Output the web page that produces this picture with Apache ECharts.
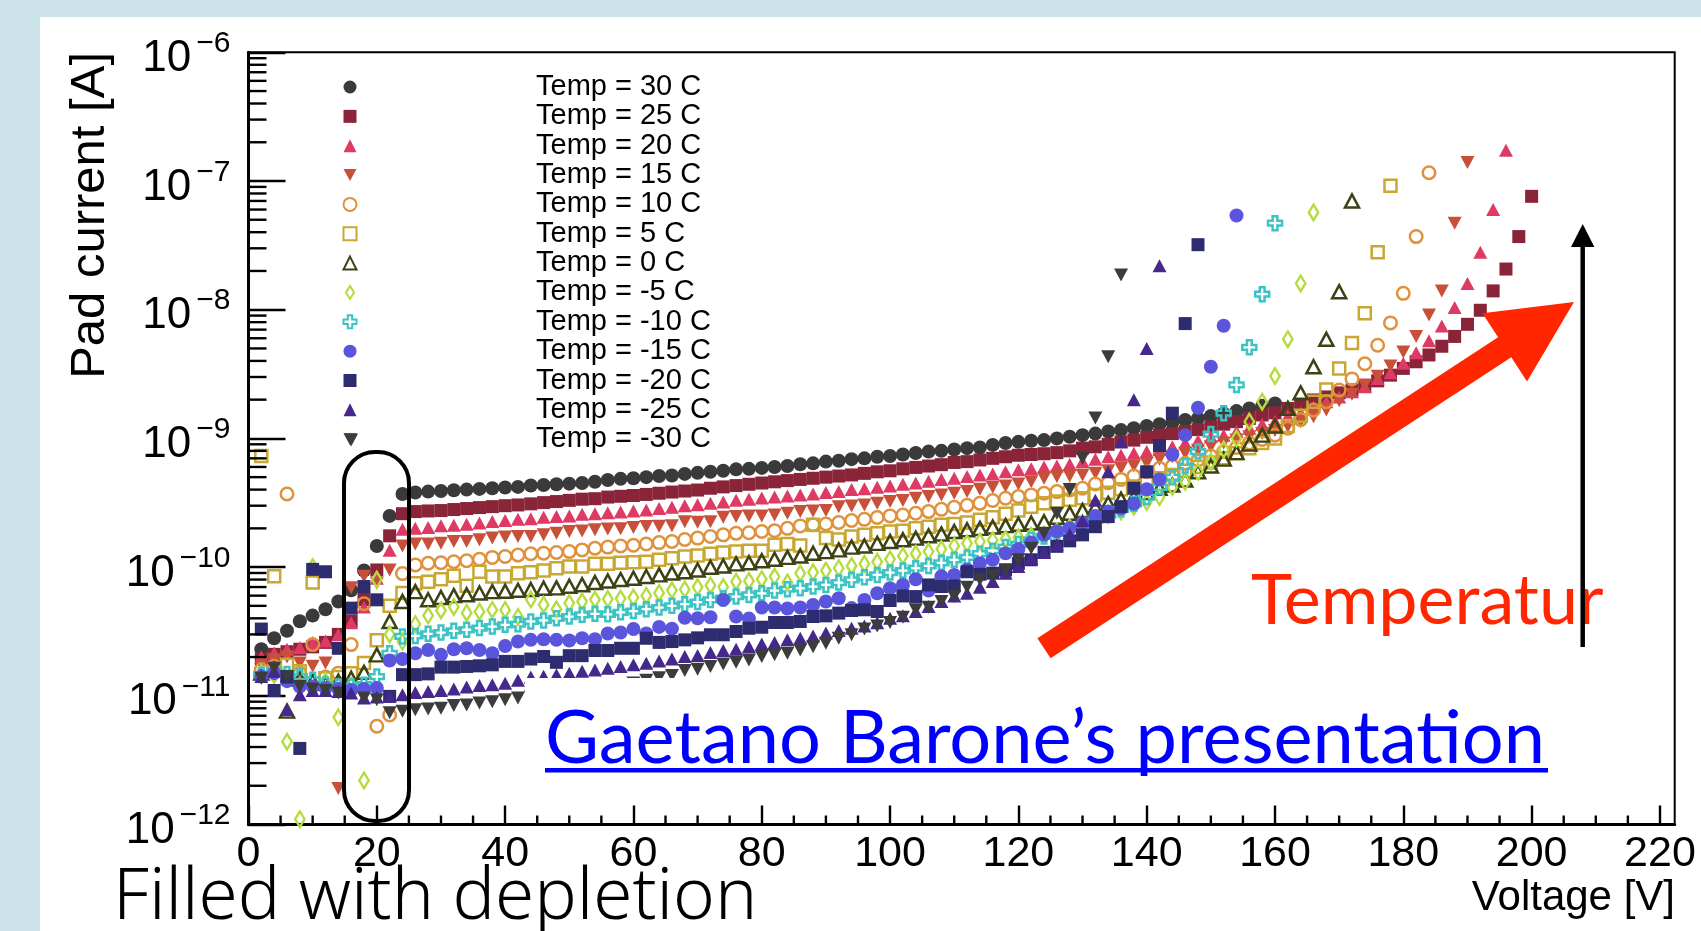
<!DOCTYPE html>
<html>
<head>
<meta charset="utf-8">
<title>Pad current vs voltage</title>
<script src="https://cdn.jsdelivr.net/npm/echarts@6/dist/echarts.min.js"></script>
<style>
html, body { margin: 0; padding: 0; background: #fff; }
#chart { width: 1701px; height: 931px; }
</style>
</head>
<body>
<div id="chart"></div>
<script>
// bias voltage [V], one point every 2 V
const voltage = [2,4,6,8,10,12,14,16,18,20,22,24,26,28,30,32,34,36,38,40,42,44,46,48,50,52,54,56,58,60,
  62,64,66,68,70,72,74,76,78,80,82,84,86,88,90,92,94,96,98,100,102,104,106,108,110,112,114,116,118,120,
  122,124,126,128,130,132,134,136,138,140,142,144,146,148,150,152,154,156,158,160,162,164,166,168,170,
  172,174,176,178,180,182,184,186,188,190,192,194,196,198,200];

// pad current [A] for each temperature, starting at 2 V
const temp30 = [2.3e-11,2.8e-11,3.2e-11,3.8e-11,4.2e-11,4.7e-11,5.4e-11,6.6e-11,9.4e-11,1.46e-10,
  2.5e-10,3.7e-10,3.8e-10,3.86e-10,3.9e-10,3.95e-10,4.0e-10,4.05e-10,4.1e-10,4.15e-10,
  4.2e-10,4.3e-10,4.35e-10,4.4e-10,4.45e-10,4.5e-10,4.6e-10,4.75e-10,4.85e-10,4.9e-10,
  5.0e-10,5.1e-10,5.15e-10,5.3e-10,5.4e-10,5.5e-10,5.6e-10,5.75e-10,5.8e-10,5.9e-10,
  6.0e-10,6.1e-10,6.3e-10,6.4e-10,6.6e-10,6.7e-10,6.9e-10,7.0e-10,7.2e-10,7.3e-10,
  7.5e-10,7.7e-10,7.9e-10,8.0e-10,8.2e-10,8.4e-10,8.5e-10,8.9e-10,9.2e-10,9.4e-10,
  9.6e-10,9.7e-10,1.0e-9,1.03e-9,1.06e-9,1.09e-9,1.13e-9,1.16e-9,1.2e-9,1.25e-9,
  1.29e-9,1.33e-9,1.39e-9,1.43e-9,1.49e-9,1.56e-9,1.63e-9,1.71e-9,1.79e-9,1.87e-9];
const temp25 = [1.93e-11,2.1e-11,2.2e-11,2.3e-11,2.4e-11,2.6e-11,3.0e-11,3.8e-11,5.6e-11,9.5e-11,
  1.75e-10,2.6e-10,2.7e-10,2.73e-10,2.75e-10,2.8e-10,2.85e-10,2.9e-10,2.95e-10,3.0e-10,
  3.04e-10,3.1e-10,3.17e-10,3.23e-10,3.3e-10,3.37e-10,3.4e-10,3.5e-10,3.55e-10,3.6e-10,
  3.67e-10,3.75e-10,3.83e-10,3.9e-10,3.97e-10,4.1e-10,4.2e-10,4.3e-10,4.4e-10,4.5e-10,
  4.6e-10,4.7e-10,4.8e-10,4.9e-10,5.0e-10,5.1e-10,5.2e-10,5.35e-10,5.5e-10,5.6e-10,
  5.8e-10,5.95e-10,6.1e-10,6.25e-10,6.5e-10,6.6e-10,6.8e-10,7.0e-10,7.2e-10,7.4e-10,
  7.5e-10,7.6e-10,7.75e-10,8.0e-10,8.4e-10,8.6e-10,9.0e-10,9.4e-10,9.7e-10,1.02e-9,
  1.06e-9,1.09e-9,1.13e-9,1.17e-9,1.23e-9,1.29e-9,1.35e-9,1.43e-9,1.52e-9,1.58e-9,
  1.71e-9,1.85e-9,1.99e-9,2.1e-9,2.26e-9,2.38e-9,2.55e-9,2.8e-9,3.1e-9,3.5e-9,
  3.94e-9,4.45e-9,5.2e-9,6.2e-9,7.7e-9,9.9e-9,1.4e-8,2.07e-8,3.7e-8,7.6e-8];
const temp20 = [2.0e-11,2.15e-11,2.3e-11,2.37e-11,2.6e-11,2.67e-11,3.0e-11,3.7e-11,4.9e-11,8.2e-11,
  1.35e-10,1.97e-10,2.0e-10,2.03e-10,2.1e-10,2.11e-10,2.15e-10,2.2e-10,2.26e-10,2.3e-10,
  2.35e-10,2.37e-10,2.44e-10,2.47e-10,2.5e-10,2.57e-10,2.6e-10,2.65e-10,2.68e-10,2.73e-10,
  2.78e-10,2.85e-10,2.92e-10,3.0e-10,3.05e-10,3.13e-10,3.2e-10,3.3e-10,3.37e-10,3.45e-10,
  3.5e-10,3.57e-10,3.63e-10,3.7e-10,3.8e-10,3.86e-10,4.0e-10,4.07e-10,4.17e-10,4.27e-10,
  4.4e-10,4.5e-10,4.65e-10,4.8e-10,4.9e-10,5.05e-10,5.2e-10,5.3e-10,5.5e-10,5.7e-10,
  5.8e-10,6.0e-10,6.1e-10,6.3e-10,6.6e-10,6.9e-10,7.2e-10,7.4e-10,7.65e-10,7.9e-10,
  8.2e-10,8.6e-10,9.2e-10,9.6e-10,1.03e-9,1.06e-9,1.13e-9,1.2e-9,1.29e-9,1.36e-9,
  1.49e-9,1.58e-9,1.76e-9,1.93e-9,2.1e-9,2.3e-9,2.52e-9,2.92e-9,3.24e-9,3.83e-9,
  4.63e-9,5.74e-9,7.46e-9,1.04e-8,1.6e-8,2.8e-8,6.0e-8,1.73e-7];
const temp15 = [1.8e-11,1.9e-11,2.0e-11,1.8e-11,1.7e-11,1.8e-11,1.9e-12,6.9e-11,8.5e-11,7.5e-11,
  9.5e-11,1.46e-10,1.51e-10,1.51e-10,1.53e-10,1.58e-10,1.58e-10,1.63e-10,1.68e-10,1.71e-10,
  1.73e-10,1.73e-10,1.78e-10,1.83e-10,1.89e-10,1.91e-10,1.95e-10,1.98e-10,1.99e-10,2.03e-10,
  2.07e-10,2.08e-10,2.1e-10,2.25e-10,2.23e-10,2.25e-10,2.44e-10,2.47e-10,2.5e-10,2.5e-10,
  2.54e-10,2.62e-10,2.7e-10,2.73e-10,2.75e-10,2.95e-10,2.99e-10,3.04e-10,3.13e-10,3.23e-10,
  3.29e-10,3.43e-10,3.53e-10,3.64e-10,3.75e-10,3.86e-10,4.02e-10,4.17e-10,4.27e-10,4.42e-10,
  4.6e-10,4.9e-10,5.05e-10,5.1e-10,5.2e-10,5.35e-10,5.6e-10,5.85e-10,6.1e-10,6.4e-10,
  6.9e-10,7.2e-10,7.65e-10,8.1e-10,8.6e-10,9.2e-10,9.7e-10,1.03e-9,1.09e-9,1.15e-9,
  1.24e-9,1.35e-9,1.47e-9,1.66e-9,1.96e-9,2.2e-9,2.6e-9,3.04e-9,3.65e-9,4.7e-9,
  6.2e-9,9.1e-9,1.4e-8,4.7e-8,1.39e-7];
const temp10 = [1.6e-11,1.7e-11,3.7e-10,1.5e-11,2.5e-11,1.4e-11,1.5e-11,2.5e-11,5.2e-11,5.8e-12,
  7.1e-12,8.9e-11,1.04e-10,1.07e-10,1.08e-10,1.1e-10,1.12e-10,1.15e-10,1.19e-10,1.21e-10,
  1.24e-10,1.27e-10,1.28e-10,1.3e-10,1.32e-10,1.36e-10,1.4e-10,1.43e-10,1.46e-10,1.48e-10,
  1.51e-10,1.55e-10,1.58e-10,1.64e-10,1.68e-10,1.73e-10,1.78e-10,1.83e-10,1.85e-10,1.89e-10,
  1.92e-10,2.0e-10,2.09e-10,2.13e-10,2.16e-10,2.22e-10,2.3e-10,2.35e-10,2.43e-10,2.5e-10,
  2.54e-10,2.62e-10,2.7e-10,2.81e-10,2.92e-10,3.02e-10,3.13e-10,3.29e-10,3.43e-10,3.53e-10,
  3.64e-10,3.75e-10,3.86e-10,3.98e-10,4.1e-10,4.42e-10,4.53e-10,4.8e-10,5.1e-10,5.5e-10,
  5.86e-10,6.1e-10,6.4e-10,6.8e-10,7.3e-10,7.9e-10,8.5e-10,9.2e-10,9.8e-10,1.06e-9,
  1.2e-9,1.4e-9,1.66e-9,1.93e-9,2.38e-9,2.9e-9,3.8e-9,5.3e-9,7.9e-9,1.34e-8,
  3.7e-8,1.16e-7];
const temp5 = [7.3e-10,8.5e-11,1.74e-11,1.55e-11,7.6e-11,1.37e-11,1.4e-11,1.5e-11,1.8e-11,2.7e-11,
  5.0e-11,6.3e-11,7.5e-11,7.7e-11,8.05e-11,8.55e-11,7.15e-11,9.2e-11,8.45e-11,8.45e-11,
  8.97e-11,9.1e-11,9.4e-11,9.8e-11,1.01e-10,1.01e-10,1.06e-10,1.06e-10,1.08e-10,1.09e-10,
  1.1e-10,1.14e-10,1.17e-10,1.21e-10,1.23e-10,1.27e-10,1.3e-10,1.32e-10,1.34e-10,1.34e-10,
  1.49e-10,1.51e-10,1.47e-10,2.13e-10,1.68e-10,1.64e-10,1.73e-10,1.78e-10,1.83e-10,1.89e-10,
  1.92e-10,2.0e-10,2.06e-10,2.13e-10,2.16e-10,2.22e-10,2.33e-10,2.44e-10,2.6e-10,2.75e-10,
  2.95e-10,3.13e-10,3.23e-10,3.33e-10,3.43e-10,3.64e-10,3.79e-10,4.02e-10,4.22e-10,4.53e-10,
  4.9e-10,5.2e-10,5.6e-10,6.0e-10,6.5e-10,7.0e-10,7.65e-10,8.4e-10,9.2e-10,1.0e-9,
  1.25e-9,1.5e-9,1.93e-9,2.4e-9,3.5e-9,5.5e-9,9.4e-9,2.8e-8,9.2e-8];
const temp0 = [1.5e-11,1.6e-11,7.6e-12,1.35e-11,1.3e-11,1.25e-11,1.3e-11,1.37e-11,1.52e-11,2.08e-11,
  3.78e-11,5.4e-11,6.45e-11,5.57e-11,5.8e-11,6.0e-11,6.1e-11,6.3e-11,6.45e-11,6.5e-11,
  6.6e-11,6.7e-11,6.85e-11,6.9e-11,7.1e-11,7.3e-11,7.6e-11,7.8e-11,8.0e-11,8.2e-11,
  8.45e-11,8.7e-11,9.0e-11,9.2e-11,9.5e-11,9.97e-11,1.02e-10,1.06e-10,1.08e-10,1.12e-10,
  1.15e-10,1.19e-10,1.22e-10,1.28e-10,1.32e-10,1.36e-10,1.43e-10,1.46e-10,1.53e-10,1.58e-10,
  1.63e-10,1.68e-10,1.75e-10,1.81e-10,1.89e-10,1.95e-10,2.0e-10,2.05e-10,2.1e-10,2.15e-10,
  2.2e-10,2.25e-10,2.44e-10,2.62e-10,2.75e-10,2.92e-10,3.13e-10,3.37e-10,3.49e-10,3.79e-10,
  4.1e-10,4.35e-10,4.75e-10,5.5e-10,6.1e-10,6.9e-10,7.75e-10,9.05e-10,1.06e-9,1.25e-9,
  1.71e-9,2.26e-9,3.6e-9,5.9e-9,1.38e-8,7.0e-8];
const tempM5 = [1.5e-11,1.45e-11,4.4e-12,1.1e-12,1.0e-10,1.3e-11,6.8e-12,1.2e-11,2.2e-12,8.0e-11,
  3.0e-11,2.64e-11,3.6e-11,4.2e-11,4.6e-11,4.9e-11,4.4e-11,4.5e-11,4.65e-11,4.65e-11,
  4.1e-11,5.6e-11,5.1e-11,4.7e-11,5.25e-11,5.4e-11,5.6e-11,5.65e-11,5.7e-11,5.8e-11,
  6.0e-11,6.3e-11,6.6e-11,6.7e-11,7.0e-11,7.2e-11,7.0e-11,7.7e-11,7.8e-11,8.05e-11,
  8.45e-11,7.6e-11,8.95e-11,9.1e-11,9.4e-11,9.8e-11,1.02e-10,1.06e-10,1.1e-10,1.15e-10,
  1.22e-10,1.27e-10,1.32e-10,1.38e-10,1.46e-10,1.53e-10,1.58e-10,1.62e-10,1.65e-10,1.7e-10,
  1.75e-10,1.78e-10,1.89e-10,2.03e-10,2.2e-10,2.35e-10,2.54e-10,2.7e-10,2.95e-10,3.2e-10,
  3.5e-10,4.2e-10,4.6e-10,5.5e-10,6.6e-10,8.2e-10,1.0e-9,1.35e-9,1.93e-9,3.05e-9,
  5.9e-9,1.6e-8,5.7e-8];
const tempM10 = [1.46e-11,1.57e-11,1.48e-11,1.41e-11,1.33e-11,1.22e-11,1.18e-11,1.18e-11,1.22e-11,1.41e-11,
  2.14e-11,2.89e-11,2.92e-11,3.03e-11,3.1e-11,3.2e-11,3.26e-11,3.36e-11,3.45e-11,3.56e-11,
  3.6e-11,3.78e-11,3.85e-11,4.0e-11,4.13e-11,4.26e-11,4.34e-11,4.3e-11,4.45e-11,4.55e-11,
  4.71e-11,4.85e-11,5.0e-11,5.15e-11,5.35e-11,5.56e-11,5.73e-11,5.9e-11,6.08e-11,6.26e-11,
  6.57e-11,6.73e-11,6.85e-11,7.06e-11,7.27e-11,7.59e-11,7.96e-11,8.34e-11,8.7e-11,9.07e-11,
  9.4e-11,9.8e-11,1.02e-10,1.08e-10,1.14e-10,1.19e-10,1.27e-10,1.34e-10,1.43e-10,1.51e-10,
  1.63e-10,1.73e-10,1.83e-10,1.97e-10,2.13e-10,2.32e-10,2.54e-10,2.81e-10,3.1e-10,3.49e-10,
  4.17e-10,4.99e-10,6.1e-10,7.9e-10,1.08e-9,1.57e-9,2.6e-9,5.1e-9,1.32e-8,4.7e-8];
const tempM15 = [1.41e-11,1.5e-11,1.3e-11,1.18e-11,1.18e-11,1.15e-11,1.13e-11,1.11e-11,1.13e-11,1.15e-11,
  1.88e-11,1.93e-11,2.14e-11,2.27e-11,2.08e-11,2.3e-11,2.34e-11,2.27e-11,2.14e-11,2.44e-11,
  2.64e-11,2.72e-11,2.75e-11,2.72e-11,2.69e-11,2.8e-11,2.75e-11,3.05e-11,3.1e-11,3.3e-11,
  3.05e-11,3.43e-11,3.32e-11,4.04e-11,4.0e-11,4.08e-11,5.56e-11,4.13e-11,3.98e-11,4.85e-11,
  4.85e-11,4.77e-11,4.85e-11,5.08e-11,5.4e-11,5.73e-11,4.8e-11,5.56e-11,6.26e-11,6.85e-11,
  7.27e-11,8.05e-11,6.57e-11,8.45e-11,8.7e-11,9.6e-11,1.07e-10,1.14e-10,1.28e-10,1.38e-10,
  1.55e-10,1.78e-10,1.9e-10,2.0e-10,2.2e-10,2.5e-10,2.7e-10,2.86e-10,3.1e-10,4.03e-10,
  4.8e-10,7.5e-10,1.06e-9,1.73e-9,3.6e-9,7.5e-9,5.4e-8];
const tempM20 = [3.3e-11,1.1e-11,1.4e-11,3.9e-12,9.6e-11,9.2e-11,2.34e-11,4.8e-11,7.06e-11,5.57e-11,
  9.9e-12,1.46e-11,1.46e-11,1.48e-11,1.67e-11,1.67e-11,1.69e-11,1.71e-11,1.74e-11,1.85e-11,
  1.85e-11,1.93e-11,2.02e-11,1.82e-11,2.05e-11,2.05e-11,2.25e-11,2.25e-11,2.34e-11,2.34e-11,
  2.8e-11,2.6e-11,2.64e-11,2.72e-11,2.82e-11,2.98e-11,2.98e-11,3.16e-11,3.35e-11,3.41e-11,
  3.71e-11,3.71e-11,3.78e-11,4.13e-11,4.18e-11,4.39e-11,4.6e-11,4.66e-11,4.52e-11,5.5e-11,
  5.97e-11,5.9e-11,7.27e-11,7.06e-11,7.14e-11,9.2e-11,8.8e-11,8.97e-11,9.5e-11,1.07e-10,
  1.14e-10,1.3e-10,1.45e-10,1.6e-10,1.78e-10,2.06e-10,2.47e-10,2.95e-10,4.1e-10,5.5e-10,
  8.8e-10,1.57e-9,7.8e-9,3.2e-8];
const tempM25 = [1.41e-11,1.55e-11,7.8e-12,1.02e-11,1.1e-11,1.1e-11,1.08e-11,1.05e-11,9.6e-12,9.8e-12,
  9.9e-12,1.02e-11,1.06e-11,1.08e-11,1.1e-11,1.13e-11,1.17e-11,1.2e-11,1.22e-11,1.25e-11,
  1.32e-11,1.4e-11,1.42e-11,1.46e-11,1.5e-11,1.55e-11,1.59e-11,1.64e-11,1.69e-11,1.74e-11,
  1.79e-11,1.86e-11,1.93e-11,2.02e-11,2.06e-11,2.17e-11,2.25e-11,2.3e-11,2.41e-11,2.53e-11,
  2.6e-11,2.72e-11,2.8e-11,2.92e-11,3.07e-11,3.22e-11,3.35e-11,3.49e-11,3.7e-11,4.0e-11,
  4.18e-11,4.52e-11,4.94e-11,5.4e-11,5.97e-11,6.26e-11,6.98e-11,7.73e-11,8.96e-11,1.01e-10,
  1.17e-10,1.3e-10,1.5e-10,1.8e-10,2.3e-10,3.3e-10,5.5e-10,9.4e-10,2.0e-9,5.0e-9,
  2.2e-8];
const tempM30 = [1.37e-11,1.64e-11,1.41e-11,1.18e-11,1.13e-11,1.1e-11,1.05e-11,9.7e-10,9.6e-12,9.3e-12,
  7.4e-12,7.6e-12,7.8e-12,7.9e-12,8.0e-12,8.4e-12,8.5e-12,8.8e-12,9.0e-12,9.3e-12,
  9.6e-12,9.8e-12,1.0e-11,1.03e-11,1.06e-11,1.09e-11,1.12e-11,1.16e-11,1.2e-11,1.26e-11,
  1.32e-11,1.38e-11,1.44e-11,1.57e-11,1.61e-11,1.69e-11,1.77e-11,1.82e-11,1.9e-11,2.02e-11,
  2.08e-11,2.14e-11,2.27e-11,2.41e-11,2.56e-11,2.8e-11,2.98e-11,3.3e-11,3.49e-11,3.71e-11,
  4.08e-11,4.66e-11,4.88e-11,5.4e-11,5.9e-11,6.98e-11,7.96e-11,8.45e-11,9.5e-11,1.14e-10,
  1.4e-10,1.83e-10,2.62e-10,4.0e-10,7.0e-10,1.44e-9,4.3e-9,1.86e-8];

const tempNames = ['Temp = 30 C','Temp = 25 C','Temp = 20 C','Temp = 15 C','Temp = 10 C','Temp = 5 C',
  'Temp = 0 C','Temp = -5 C','Temp = -10 C','Temp = -15 C','Temp = -20 C','Temp = -25 C','Temp = -30 C'];
const tempValues = [temp30,temp25,temp20,temp15,temp10,temp5,temp0,tempM5,tempM10,tempM15,tempM20,tempM25,tempM30];
const tempColors = ['#3a3a3a','#8a2439','#de3a63','#c8503a','#e0913c','#c8a832','#3c4214',
  '#b4dc3c','#3cc3c3','#5a55dc','#2d2c6e','#46288c','#3c3c3c'];

// ROOT-like marker styles
const DOWN = 'path://M0,0L12,0L6,11Z';
const CROSS = 'path://M3.3,0L6.7,0L6.7,3.3L10,3.3L10,6.7L6.7,6.7L6.7,10L3.3,10L3.3,6.7L0,6.7L0,3.3L3.3,3.3Z';
const DIAMOND = 'path://M5,0L10,8L5,16L0,8Z';
const markers = [
  ['circle', 14, false], ['rect', 13, false], ['triangle', [14, 13], false], [DOWN, [14, 13], false],
  ['circle', 12.5, true], ['rect', 12, true], ['triangle', [14, 13], true], [DIAMOND, [9.5, 15.5], true],
  [CROSS, 14, true], ['circle', 14, false], ['rect', 13, false], ['triangle', [14, 13], false],
  [DOWN, [14, 13], false]
];

const FONT = 'Liberation Sans';

const scatterSeries = tempNames.map((name, k) => ({
  name: name,
  type: 'scatter',
  symbol: markers[k][0],
  symbolSize: markers[k][1],
  data: tempValues[k].map((c, i) => [voltage[i], c]),
  itemStyle: markers[k][2]
    ? { color: 'rgba(0,0,0,0)', borderColor: tempColors[k], borderWidth: 2.5, opacity: 1 }
    : { color: tempColors[k], opacity: 1 },
  emphasis: { disabled: true }
}));

// minor ticks (log decades on y, 5 V on x)
const yMinor = [];
for (let e = -12; e < -6; e++) for (let k = 2; k <= 9; k++) yMinor.push(k * Math.pow(10, e));
const xMinor = [];
for (let v = 5; v < 222; v += 5) if (v % 20 !== 0) xMinor.push(v);

const tickSeries = [
  {
    type: 'custom', silent: true, clip: false, z: 3,
    data: yMinor.map(v => [0, v]),
    renderItem: (params, api) => {
      const p = api.coord([api.value(0), api.value(1)]);
      return { type: 'line', shape: { x1: p[0], y1: p[1], x2: p[0] + 18, y2: p[1] },
        style: { stroke: '#000', lineWidth: 2.4 } };
    }
  },
  {
    type: 'custom', silent: true, clip: false, z: 3,
    data: xMinor.map(v => [v, 1e-12]),
    renderItem: (params, api) => {
      const p = api.coord([api.value(0), api.value(1)]);
      return { type: 'line', shape: { x1: p[0], y1: p[1], x2: p[0], y2: p[1] - 9 },
        style: { stroke: '#000', lineWidth: 2.4 } };
    }
  }
];

const chart = echarts.init(document.getElementById('chart'));
chart.setOption({
  backgroundColor: '#fff',
  animation: false,
  grid: { left: 248.5, right: 26.3, top: 52.3, bottom: 106.5, show: true,
    borderColor: '#000', borderWidth: 2, containLabel: false },
  legend: {
    orient: 'vertical', left: 337.5, top: 67.5, padding: 5,
    itemWidth: 13, itemHeight: 13, itemGap: 0.35, selectedMode: false,
    data: tempNames,
    textStyle: { fontFamily: FONT, fontSize: 29, color: '#000', padding: [0, 0, 0, 174.5] }
  },
  xAxis: {
    type: 'value', min: 0, max: 222.3, interval: 20,
    axisLine: { show: true, lineStyle: { color: '#000', width: 3 } },
    axisTick: { show: true, inside: true, length: 19, lineStyle: { color: '#000', width: 2.4 } },
    axisLabel: { margin: 8, fontSize: 43, fontFamily: FONT, color: '#000', showMaxLabel: false },
    splitLine: { show: false }
  },
  yAxis: {
    type: 'log', logBase: 10, min: 1e-12, max: 1e-6, splitNumber: 6,
    axisLine: { show: true, lineStyle: { color: '#000', width: 3 } },
    axisTick: { show: true, inside: true, length: 37, lineStyle: { color: '#000', width: 2.4 } },
    splitLine: { show: false },
    axisLabel: {
      margin: 18,
      padding: [5, 0, 0, 0],
      formatter: v => '{b|10}{s|\u2212' + Math.round(-Math.log10(v)) + '}',
      rich: {
        b: { fontSize: 44, fontFamily: FONT, color: '#000', lineHeight: 52, verticalAlign: 'bottom' },
        s: { fontSize: 30, fontFamily: FONT, color: '#000', lineHeight: 30, verticalAlign: 'top', padding: [0, 0, 0, 5] }
      }
    }
  },
  series: scatterSeries.concat(tickSeries),
  graphic: [
    // slide background strips
    { type: 'rect', shape: { x: 0, y: 0, width: 1701, height: 17 }, style: { fill: '#cce4e9' } },
    { type: 'rect', shape: { x: 0, y: 0, width: 40, height: 931 }, style: { fill: '#cce4e9' } },
    // axis titles
    { type: 'text', x: 90, y: 52, rotation: Math.PI / 2,
      style: { text: 'Pad current [A]', fontSize: 49, fontFamily: FONT, fill: '#000', align: 'right', verticalAlign: 'middle' } },
    { type: 'text', x: 1675, y: 898,
      style: { text: 'Voltage [V]', fontSize: 42, fontFamily: FONT, fill: '#000', align: 'right', verticalAlign: 'middle' } },
    { type: 'text', x: 113, y: 899,
      style: { text: 'Filled with depletion', fontSize: 71, fontWeight: 300, fontFamily: 'Noto Sans', fill: '#000', align: 'left', verticalAlign: 'middle' } },
    // link text box on the slide
    { type: 'rect', z: 100, shape: { x: 525, y: 678, width: 1040, height: 110 }, style: { fill: '#fff' } },
    { type: 'text', z: 101, x: 545, y: 739,
      style: { text: 'Gaetano Barone\u2019s presentation', fontSize: 74, fontFamily: 'Lato', fill: '#0000ff', align: 'left', verticalAlign: 'middle' } },
    { type: 'rect', z: 101, shape: { x: 545, y: 768, width: 1003, height: 4.5 }, style: { fill: '#0000ff' } },
    { type: 'text', z: 101, x: 1251, y: 601,
      style: { text: 'Temperatur', fontSize: 70, fontFamily: 'Lato', fill: '#ff2600', align: 'left', verticalAlign: 'middle' } },
    // red arrow
    { type: 'polygon', z: 102,
      shape: { points: [[1037.4, 638.3], [1498.1, 337.3], [1482.4, 313.2], [1574, 302], [1527, 381.4], [1511.3, 357.3], [1050.6, 658.3]] },
      style: { fill: '#ff2600' } },
    // black arrow
    { type: 'line', z: 103, shape: { x1: 1582.7, y1: 647, x2: 1582.7, y2: 244 }, style: { stroke: '#000', lineWidth: 4.5 } },
    { type: 'polygon', z: 103, shape: { points: [[1582.7, 224], [1571, 247], [1594.4, 247]] }, style: { fill: '#000' } },
    // depletion marker
    { type: 'rect', z: 102, shape: { x: 344, y: 452, width: 65, height: 369, r: 31 },
      style: { fill: 'none', stroke: '#000', lineWidth: 4 } }
  ]
});
</script>
</body>
</html>
